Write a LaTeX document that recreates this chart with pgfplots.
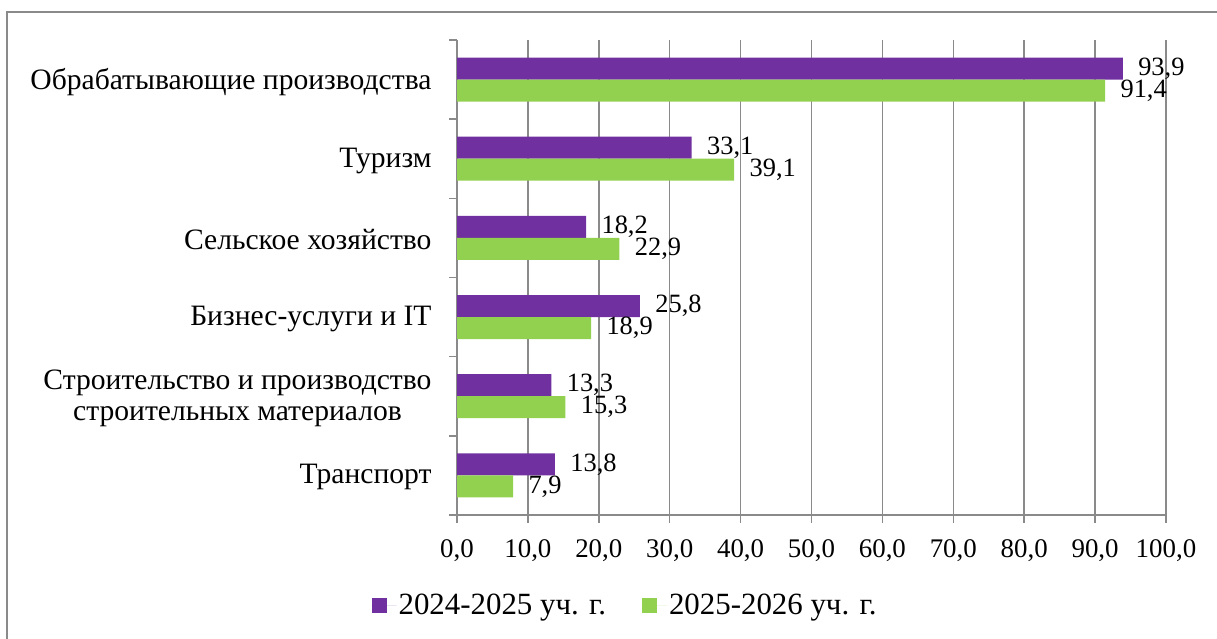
\documentclass[border=0pt]{standalone}
\usepackage{pgfplots}
\pgfplotsset{compat=1.18}
\usepackage{fontspec}
\setmainfont{Liberation Serif}
\definecolor{cpurple}{HTML}{7030A0}
\definecolor{cgreen}{HTML}{92D050}
\definecolor{cgrid}{HTML}{8A8A8A}
\begin{document}
\begin{tikzpicture}
\useasboundingbox (0,0) rectangle (1217bp,639bp);
\draw[cgrid, line width=1.5bp] (7bp,0) -- (7bp,627bp) -- (1217bp,627bp);
\begin{axis}[
  at={(457bp,124bp)}, anchor=south west,
  scale only axis, width=709bp, height=475bp,
  xbar, bar width=22bp,
  xmin=0, xmax=100, ymin=-0.5, ymax=5.5,
  enlargelimits=false,
  axis x line*=bottom, axis y line*=left,
  axis line style={cgrid, line width=1.5bp, -},
  xtick={0,10,...,100},
  ytick={0,...,5},
  minor ytick={-0.5,0.5,...,5.5},
  yticklabels={Транспорт, {Строительство и производство\\строительных материалов}, Бизнес-услуги и IT, Сельское хозяйство, Туризм, Обрабатывающие производства},
  tick align=outside,
  major tick length=8bp, minor tick length=8bp,
  tick style={cgrid, line width=1.5bp},
  every major y tick/.style={draw=none},
  xmajorgrids, grid style={cgrid, line width=1.5bp},
  yticklabel style={align=center, font=\fontsize{29.7}{31}\selectfont, xshift=-14bp, yshift=-2bp},
  xticklabel style={font=\fontsize{27}{31}\selectfont, yshift=-13bp},
  /pgf/number format/.cd, use comma, fixed, fixed zerofill, precision=1, assume math mode=true,
  /pgfplots/.cd,
  nodes near coords={\pgfmathprintnumber[fixed,fixed zerofill,precision=1,use comma,assume math mode=true]{\pgfplotspointmeta}},
  every node near coord/.append style={font=\fontsize{26.5}{30}\selectfont, black, xshift=12bp},
  legend style={at={(0.237,-0.19)}, anchor=center, draw=none, legend columns=2,
    font=\fontsize{31}{35}\selectfont,
    /tikz/every even column/.append style={column sep=34bp}},
  legend image code/.code={\fill[#1] (0bp,-7.5bp) rectangle (15bp,7.5bp); \path (0bp,0bp) -- (25bp,0bp);},
]
\addplot[fill=cpurple, draw=none, bar shift=11bp] coordinates {
  (13.8,0) (13.3,1) (25.8,2) (18.2,3) (33.1,4) (93.9,5)};
\addplot[fill=cgreen, draw=none, bar shift=-11bp] coordinates {
  (7.9,0) (15.3,1) (18.9,2) (22.9,3) (39.1,4) (91.4,5)};
\legend{2024-2025 уч. г., 2025-2026 уч. г.}
\end{axis}
\end{tikzpicture}
\end{document}
